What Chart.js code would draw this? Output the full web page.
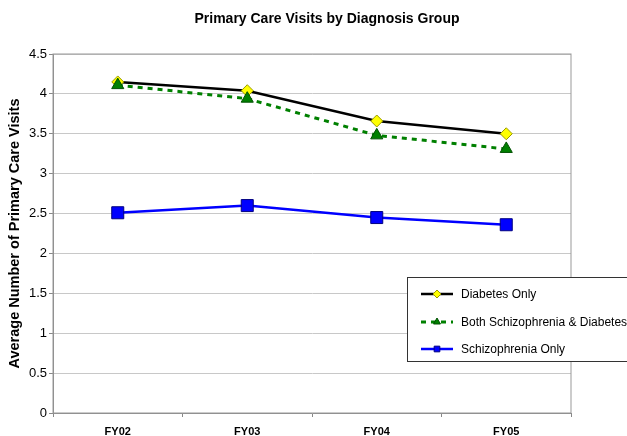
<!DOCTYPE html>
<html>
<head>
<meta charset="utf-8">
<script src="https://cdn.jsdelivr.net/npm/chart.js@4"></script>
<style>
    html, body { margin: 0; padding: 0; background: #fff; }
    #wrap { width: 627px; height: 436px; }
</style>
</head>
<body>
<div id="wrap"><canvas id="visitsChart" width="627" height="436"></canvas></div>
<script>
// Chart data
const years = ['FY02', 'FY03', 'FY04', 'FY05'];
const diabetesOnly = [4.15, 4.04, 3.66, 3.50];
const bothGroups = [4.11, 3.94, 3.48, 3.31];
const schizophreniaOnly = [2.51, 2.60, 2.45, 2.36];
const yTicks = [0, 0.5, 1, 1.5, 2, 2.5, 3, 3.5, 4, 4.5];
const chartTitle = 'Primary Care Visits by Diagnosis Group';

const FONT = '"Liberation Sans", Arial, sans-serif';

// Title sits a bit right of centre in the original
const topTitle = {
    id: 'topTitle',
    afterDraw(chart) {
        const ctx = chart.ctx;
        ctx.save();
        ctx.fillStyle = '#000';
        ctx.font = 'bold 14px ' + FONT;
        ctx.textAlign = 'center';
        ctx.textBaseline = 'middle';
        ctx.fillText(chartTitle, 327, 19);
        ctx.restore();
    }
};

// Legend box drawn inside the canvas, overlapping the plot like the original
const boxLegend = {
    id: 'boxLegend',
    afterDraw(chart) {
        const ctx = chart.ctx;
        const x = 407, y = 277, w = 230, h = 84;
        ctx.save();
        ctx.fillStyle = '#fff';
        ctx.fillRect(x, y, w, h);
        ctx.strokeStyle = '#333';
        ctx.lineWidth = 1;
        ctx.strokeRect(x + 0.5, y + 0.5, w, h);

        const rows = [294, 322, 349];
        chart.data.datasets.forEach((ds, i) => {
            const ry = rows[i];
            ctx.strokeStyle = ds.borderColor;
            ctx.lineWidth = ds.borderWidth;
            ctx.setLineDash(ds.borderDash || []);
            ctx.beginPath();
            ctx.moveTo(421, ry);
            ctx.lineTo(453, ry);
            ctx.stroke();
            ctx.setLineDash([]);
            ctx.fillStyle = ds.pointBackgroundColor;
            ctx.strokeStyle = ds.pointBorderColor;
            ctx.lineWidth = 1;
            Chart.helpers.drawPoint(ctx, {
                pointStyle: ds.pointStyle,
                radius: ds.legendRadius,
                borderWidth: 1
            }, 437, ry);
            ctx.fillStyle = '#000';
            ctx.font = '12px ' + FONT;
            ctx.textBaseline = 'middle';
            ctx.fillText(ds.label, 461, ry + 1);
        });
        ctx.restore();
    }
};

const plotFrame = {
    id: 'plotFrame',
    beforeDatasetsDraw(chart) {
        const a = chart.chartArea, ctx = chart.ctx;
        ctx.save();
        ctx.strokeStyle = '#999';
        ctx.lineWidth = 1;
        ctx.strokeRect(a.left, a.top, a.right - a.left, a.bottom - a.top);
        ctx.restore();
    }
};

new Chart(document.getElementById('visitsChart'), {
    type: 'line',
    data: {
        labels: years,
        datasets: [
            {
                label: 'Diabetes Only',
                data: diabetesOnly,
                borderColor: '#000',
                borderWidth: 2.5,
                pointStyle: 'rectRot',
                pointRadius: 6,
                legendRadius: 4,
                pointBackgroundColor: '#FFFF00',
                pointBorderColor: '#999900',
                pointBorderWidth: 1,
                order: 3
            },
            {
                label: 'Both Schizophrenia & Diabetes',
                data: bothGroups,
                borderColor: '#008000',
                borderWidth: 3,
                borderDash: [5, 5],
                pointStyle: 'triangle',
                pointRadius: 7,
                legendRadius: 4,
                pointBackgroundColor: '#008000',
                pointBorderColor: '#005000',
                pointBorderWidth: 1,
                order: 2
            },
            {
                label: 'Schizophrenia Only',
                data: schizophreniaOnly,
                borderColor: '#0000FF',
                borderWidth: 2.5,
                pointStyle: 'rect',
                pointRadius: 8.5,
                legendRadius: 4,
                pointBackgroundColor: '#0000FF',
                pointBorderColor: '#000080',
                pointBorderWidth: 1,
                order: 1
            }
        ]
    },
    options: {
        responsive: false,
        animation: false,
        devicePixelRatio: 1,
        layout: { padding: { top: 54, right: 56, bottom: 0, left: 0 } },
        plugins: {
            legend: { display: false },
            tooltip: { enabled: false },
            title: { display: false }
        },
        scales: {
            x: {
                offset: true,
                afterFit: axis => { axis.height = 23; },
                grid: { display: true, drawOnChartArea: false, offset: true, color: '#888', tickLength: 4 },
                border: { color: '#888', width: 1 },
                ticks: {
                    color: '#000',
                    padding: 8,
                    font: { family: FONT, size: 11, weight: 'bold' }
                }
            },
            y: {
                min: 0,
                max: 4.5,
                afterFit: axis => { axis.width = 53; },
                afterBuildTicks: axis => { axis.ticks = yTicks.map(v => ({ value: v })); },
                grid: { color: '#c8c8c8', tickLength: 4, tickColor: '#888' },
                border: { color: '#888', width: 1 },
                ticks: {
                    color: '#000',
                    padding: 2,
                    font: { family: FONT, size: 13 },
                    callback: v => String(v)
                },
                title: {
                    display: true,
                    text: 'Average Number of Primary Care Visits',
                    color: '#000',
                    font: { family: FONT, size: 14.5, weight: 'bold' },
                    padding: { top: 6, bottom: 0 }
                }
            }
        }
    },
    plugins: [plotFrame, boxLegend, topTitle]
});
</script>
</body>
</html>
